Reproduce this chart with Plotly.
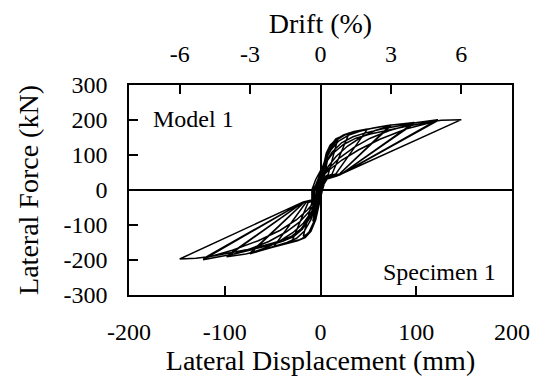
import plotly.graph_objects as go

# Model 1 / Specimen 1 hysteresis, one list pair per cycle (mm, kN)
cyc1_x = [0, 2, 5, 8, 4, 1, -2, -5, -8, -4, -2]
cyc1_y = [0, 40, 75, 95, 42, 10, -30, -65, -90, -33, -10]

cyc2_x = [-2, 0, 3, 6, 10, 14, 18, 8, 3, 0, -3, -6, -10, -14, -18, -9, -4]
cyc2_y = [-10, 30, 70, 105, 128, 138, 145, 44, 35, 0, -45, -90, -115, -126, -132, -36, -28]

cyc3_x = [-4, -2, 2, 6, 10, 16, 24, 30, 12, 4, 1, -2, -6, -10, -16, -22, -30, -13, -5]
cyc3_y = [-28, 0, 50, 95, 125, 146, 157, 163, 45, 36, 0, -40, -85, -115, -135, -142, -148, -36, -30]

cyc4_x = [-5, -3, 1, 5, 10, 16, 24, 35, 49, 16, 5, 2, -1, -5, -10, -16, -24, -36, -49, -15, -6]
cyc4_y = [-30, 0, 45, 90, 122, 144, 157, 167, 174, 46, 37, 0, -40, -85, -118, -136, -145, -153, -163, -35, -31]

cyc5_x = [-6, -4, 0, 5, 11, 18, 26, 38, 50, 62, 73.5, 20, 6, 2, -2, -6, -12, -19, -28, -40, -52, -63, -73.5, -17, -7]
cyc5_y = [-31, 0, 40, 85, 120, 145, 158, 168, 174, 180, 186, 46, 38, 0, -40, -85, -120, -139, -148, -156, -165, -174, -182, -35, -31]

cyc5b_x = [-7, -6, -1, 6, 16, 28, 42, 57, 73.5, 20, 6, 1, -4, -10, -18, -29, -42, -57, -73.5, -17, -7]
cyc5b_y = [-31, 0, 30, 60, 95, 125, 150, 170, 184, 46, 37, 0, -35, -65, -95, -122, -145, -165, -180, -35, -31]

cyc6_x = [-7, -6, -2, 4, 11, 19, 29, 41, 55, 70, 85, 98, 22, 7, 1, -4, -10, -17, -25, -35, -47, -61, -78, -98, -18, -8]
cyc6_y = [-31, 0, 35, 80, 115, 140, 156, 168, 177, 184, 189, 193, 46, 38, 0, -40, -85, -118, -138, -150, -160, -171, -183, -191, -35, -31]

cyc6b_x = [-8, -7, -1, 8, 20, 35, 52, 72, 98, 22, 7, 1, -5, -12, -22, -36, -54, -75, -98, -18, -8]
cyc6b_y = [-31, 0, 30, 60, 92, 122, 148, 170, 190, 46, 38, 0, -35, -62, -92, -120, -147, -170, -189, -35, -31]

cyc7_x = [-8, -7, -3, 3, 12, 22, 34, 48, 64, 82, 101, 122.5, 20, 8, 0, -5, -11, -19, -28, -39, -52, -70, -89, -106, -122.5, -18, -9]
cyc7_y = [-31, 0, 30, 70, 108, 135, 152, 164, 174, 184, 193, 201, 43, 37, 0, -40, -80, -112, -133, -146, -157, -169, -182, -191, -199, -34, -30]

cyc7b_x = [-9, -8, -2, 8, 22, 40, 62, 90, 122.5, 20, 8, 0, -6, -14, -25, -42, -65, -92, -122.5, -18, -9]
cyc7b_y = [-30, 0, 28, 55, 85, 115, 145, 175, 198, 43, 37, 0, -33, -58, -85, -115, -145, -172, -196, -34, -30]

cyc8_x = [-9, -9, -5, 2, 12, 24, 37, 52, 70, 90, 111, 126, 147, 17, 5, -1, -6, -12, -20, -30, -43, -58, -76, -96, -115, -130, -147, -18, -8]
cyc8_y = [-30, 0, 30, 65, 102, 130, 148, 160, 171, 182, 193, 199, 201, 40, 30, 0, -40, -80, -110, -132, -146, -158, -170, -181, -190, -195, -197, -34, -28]

cycles_x = [cyc1_x, cyc2_x, cyc3_x, cyc4_x, cyc5_x, cyc5b_x, cyc6_x, cyc6b_x,
            cyc7_x, cyc7b_x, cyc8_x]
cycles_y = [cyc1_y, cyc2_y, cyc3_y, cyc4_y, cyc5_y, cyc5b_y, cyc6_y, cyc6b_y,
            cyc7_y, cyc7b_y, cyc8_y]

x_ticks = [-200, -100, 0, 100, 200]
y_ticks = [-300, -200, -100, 0, 100, 200, 300]
drift_ticks = [-6, -3, 0, 3, 6]
mm_per_drift = 24.5  # mm per 1 % drift

FONT = "Liberation Serif"

disp = []
force = []
for cx, cy in zip(cycles_x, cycles_y):
    disp += cx
    force += cy

fig = go.Figure()
fig.add_trace(go.Scatter(x=disp, y=force, mode="lines",
                         line=dict(color="black", width=1.5),
                         showlegend=False, hoverinfo="skip"))
# dummy trace so the top drift axis is drawn
fig.add_trace(go.Scatter(x=[0], y=[0], xaxis="x2", mode="markers",
                         marker=dict(opacity=0), showlegend=False,
                         hoverinfo="skip"))

common = dict(ticks="inside", ticklen=9, tickcolor="black", tickwidth=1.5,
              showgrid=False, automargin=False)

# page body has an 8px default margin (left/top), so the figure is 8px smaller
fig.update_layout(
    width=533, height=375,
    margin=dict(l=121, r=29, t=77, b=88),
    plot_bgcolor="white", paper_bgcolor="white",
    font=dict(family=FONT, size=24, color="black"),
    xaxis=dict(range=[-200, 200], tickvals=x_ticks,
               ticktext=[str(v) for v in x_ticks],
               showline=True, linecolor="black", linewidth=1.5,
               mirror=True, zeroline=True,
               zerolinecolor="black", zerolinewidth=1.5,
               ticklabelstandoff=14,
               title=dict(text="Lateral Displacement (mm)",
                          font=dict(size=28), standoff=2),
               **common),
    yaxis=dict(range=[-300, 300], tickvals=y_ticks,
               ticktext=[str(v) for v in y_ticks],
               showline=True, linecolor="black", linewidth=1.5,
               mirror=True, zeroline=True,
               zerolinecolor="black", zerolinewidth=1.5,
               ticklabelstandoff=15,
               title=dict(text="Lateral Force (kN)",
                          font=dict(size=28), standoff=17),
               **common),
    xaxis2=dict(overlaying="x", side="top",
                range=[-200 / mm_per_drift, 200 / mm_per_drift],
                tickvals=drift_ticks,
                ticktext=[str(v) for v in drift_ticks],
                zeroline=False, showline=False, ticklabelstandoff=17,
                title=dict(text="Drift (%)", font=dict(size=28),
                           standoff=9),
                **common),
)

fig.add_annotation(x=-177, y=202, text="Model 1", showarrow=False,
                   xanchor="left", yanchor="middle", font=dict(size=24))
fig.add_annotation(x=185, y=-233, text="Specimen 1", showarrow=False,
                   xanchor="right", yanchor="middle", font=dict(size=24))

fig.write_html("out.html")
